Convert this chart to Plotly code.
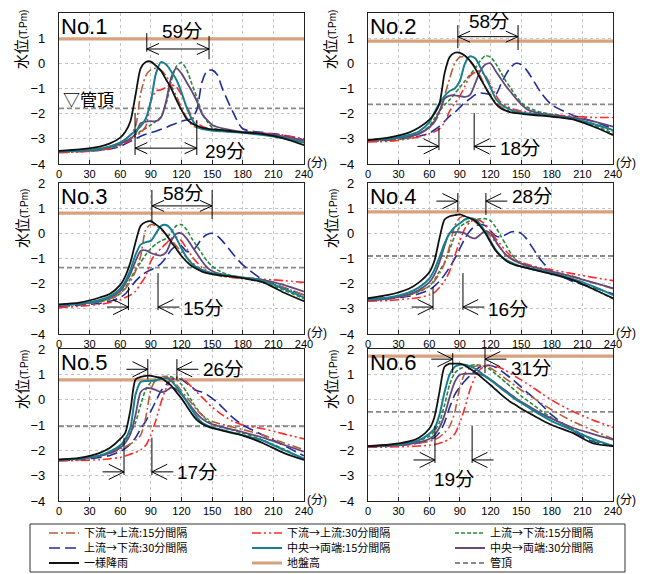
import plotly.graph_objects as go

# ---------------- data ----------------
T = [0, 20, 40, 50, 60, 65, 70, 75, 80, 85, 90, 95, 100, 105, 110, 115, 120, 125,
     130, 135, 140, 145, 150, 155, 160, 170, 180, 200, 220, 240]
X_TICKS = [0, 30, 60, 90, 120, 150, 180, 210, 240]
Y_TICKS = [-4, -3, -2, -1, 0, 1, 2]
PANEL_NAMES = ["No.1", "No.2", "No.3", "No.4", "No.5", "No.6"]
GROUND = [0.97, 0.88, 0.8, 0.85, 0.78, 1.72]
PIPE = [-1.79, -1.63, -1.36, -0.9, -1.05, -0.48]

no1_du15 = [-3.5,-3.45,-3.38,-3.3,-3.15,-3.02,-2.85,-2.5,-1.2,-0.5,-0.25,-0.2,-0.28,-0.5,-0.9,-1.3,-1.75,-2.15,-2.45,-2.55,-2.6,-2.64,-2.67,-2.69,-2.7,-2.73,-2.75,-2.8,-2.92,-3.1]
no1_du30 = [-3.55,-3.52,-3.45,-3.38,-3.25,-3.15,-3.05,-2.9,-2.75,-2.5,-1.5,-1.1,-1.05,-0.95,-0.85,-0.95,-1.25,-1.7,-2.1,-2.35,-2.5,-2.58,-2.62,-2.65,-2.67,-2.7,-2.72,-2.78,-2.85,-3.0]
no1_ud15 = [-3.52,-3.5,-3.45,-3.38,-3.25,-3.12,-2.98,-2.82,-2.7,-2.58,-2.45,-2.3,-2.12,-1.6,-0.7,-0.12,0.03,-0.25,-0.8,-1.35,-1.95,-2.3,-2.55,-2.62,-2.65,-2.7,-2.73,-2.8,-2.95,-3.15]
no1_ud30 = [-3.52,-3.5,-3.45,-3.4,-3.3,-3.2,-3.1,-3.0,-2.9,-2.82,-2.75,-2.7,-2.62,-2.55,-2.45,-2.38,-2.3,-2.25,-2.2,-1.85,-0.75,-0.3,-0.27,-0.45,-1.0,-1.9,-2.6,-2.75,-2.85,-3.05]
no1_ce15 = [-3.5,-3.47,-3.4,-3.3,-3.15,-3.02,-2.85,-2.68,-2.5,-2.2,-1.5,-0.4,0.05,-0.05,-0.33,-0.65,-1.15,-1.75,-2.2,-2.5,-2.6,-2.64,-2.67,-2.69,-2.7,-2.73,-2.76,-2.85,-2.98,-3.15]
no1_ce30 = [-3.5,-3.47,-3.4,-3.32,-3.2,-3.1,-3.0,-2.8,-2.38,-2.32,-2.3,-2.3,-2.15,-1.5,-0.55,-0.2,-0.4,-0.75,-1.1,-1.5,-2.0,-2.25,-2.45,-2.53,-2.58,-2.66,-2.72,-2.78,-2.9,-3.05]
no1_uni  = [-3.48,-3.42,-3.31,-3.18,-2.95,-2.72,-2.3,-1.25,-0.2,0.05,0.07,-0.1,-0.3,-0.65,-1.0,-1.45,-1.85,-2.2,-2.38,-2.48,-2.55,-2.59,-2.62,-2.64,-2.65,-2.7,-2.74,-2.81,-2.98,-3.25]

no2_du15 = [-3.05,-3.0,-2.9,-2.78,-2.55,-2.35,-2.0,-1.3,-0.6,0.0,0.25,0.25,0.1,-0.15,-0.5,-0.95,-1.3,-1.55,-1.72,-1.82,-1.9,-1.95,-1.98,-2.0,-2.02,-2.05,-2.1,-2.2,-2.4,-2.7]
no2_du30 = [-3.12,-3.1,-3.0,-2.92,-2.8,-2.72,-2.6,-2.35,-1.9,-1.6,-1.3,-0.9,-0.5,-0.35,-0.3,-0.5,-0.85,-1.25,-1.55,-1.7,-1.78,-1.85,-1.9,-1.93,-1.95,-2.0,-2.05,-2.1,-2.15,-2.15]
no2_ud15 = [-3.08,-3.05,-2.95,-2.8,-2.5,-2.2,-1.9,-1.65,-1.45,-1.2,-0.95,-0.7,-0.45,-0.2,0.1,0.3,0.25,0.0,-0.35,-0.7,-1.0,-1.3,-1.55,-1.72,-1.82,-1.95,-2.02,-2.15,-2.45,-2.78]
no2_ud30 = [-3.1,-3.05,-2.97,-2.9,-2.78,-2.65,-2.5,-2.3,-2.1,-1.95,-1.75,-1.55,-1.4,-1.25,-1.18,-1.2,-1.25,-1.25,-0.85,-0.45,-0.15,0.0,-0.05,-0.25,-0.55,-1.2,-1.65,-2.05,-2.3,-2.6]
no2_ce15 = [-3.05,-3.0,-2.85,-2.7,-2.35,-1.95,-1.6,-1.3,-1.1,-1.0,-0.7,0.0,0.28,0.2,-0.15,-0.55,-0.95,-1.4,-1.62,-1.75,-1.85,-1.92,-1.95,-1.98,-2.0,-2.05,-2.1,-2.2,-2.4,-2.65]
no2_ce30 = [-3.05,-3.0,-2.9,-2.8,-2.55,-2.3,-1.9,-1.4,-1.28,-1.27,-1.3,-1.33,-1.25,-0.8,-0.3,-0.05,0.0,-0.3,-0.6,-0.9,-1.15,-1.4,-1.62,-1.8,-1.9,-2.0,-2.05,-2.15,-2.3,-2.52]
no2_uni  = [-3.05,-2.95,-2.75,-2.55,-2.25,-2.0,-1.6,-0.4,0.25,0.42,0.42,0.3,0.1,-0.2,-0.6,-0.95,-1.3,-1.6,-1.78,-1.88,-1.95,-1.98,-2.0,-2.03,-2.05,-2.08,-2.12,-2.22,-2.5,-2.85]

no3_du15 = [-2.85,-2.8,-2.7,-2.6,-2.4,-2.2,-1.9,-1.5,-0.9,0.15,0.35,0.3,0.15,-0.05,-0.25,-0.5,-0.75,-0.95,-1.15,-1.3,-1.45,-1.55,-1.62,-1.66,-1.7,-1.75,-1.8,-1.9,-2.15,-2.45]
no3_du30 = [-2.95,-2.9,-2.82,-2.75,-2.65,-2.55,-2.45,-2.3,-2.0,-1.7,-1.1,-0.8,-0.6,-0.4,-0.2,-0.15,-0.3,-0.6,-0.9,-1.15,-1.35,-1.5,-1.6,-1.66,-1.7,-1.75,-1.78,-1.82,-1.88,-1.95]
no3_ud15 = [-2.85,-2.82,-2.72,-2.62,-2.4,-2.15,-1.8,-1.45,-1.15,-0.85,-0.6,-0.42,-0.3,-0.2,0.05,0.3,0.35,0.15,-0.2,-0.5,-0.8,-1.1,-1.3,-1.45,-1.55,-1.7,-1.78,-1.95,-2.25,-2.6]
no3_ud30 = [-2.9,-2.85,-2.78,-2.7,-2.55,-2.4,-2.15,-1.9,-1.7,-1.55,-1.45,-1.35,-1.2,-0.95,-0.65,-0.5,-0.5,-0.72,-0.72,-0.5,-0.2,-0.05,0.0,-0.1,-0.3,-0.8,-1.25,-1.85,-2.15,-2.45]
no3_ce15 = [-2.85,-2.8,-2.65,-2.5,-2.2,-1.9,-1.45,-0.85,-0.45,-0.35,-0.3,0.0,0.3,0.33,0.15,-0.2,-0.6,-0.95,-1.2,-1.35,-1.45,-1.52,-1.58,-1.62,-1.65,-1.7,-1.76,-1.88,-2.2,-2.55]
no3_ce30 = [-2.85,-2.8,-2.68,-2.55,-2.3,-2.0,-1.6,-1.1,-0.7,-0.68,-0.78,-0.85,-0.88,-0.75,-0.3,-0.02,0.0,-0.2,-0.5,-0.8,-1.1,-1.35,-1.5,-1.58,-1.63,-1.7,-1.75,-1.85,-2.05,-2.32]
no3_uni  = [-2.82,-2.75,-2.55,-2.4,-2.05,-1.7,-1.15,-0.35,0.3,0.45,0.48,0.35,0.2,-0.05,-0.35,-0.62,-0.9,-1.12,-1.3,-1.42,-1.52,-1.58,-1.62,-1.65,-1.68,-1.72,-1.78,-1.95,-2.35,-2.7]

no4_du15 = [-2.65,-2.6,-2.45,-2.3,-2.1,-1.9,-1.6,-1.2,-0.5,0.3,0.62,0.68,0.6,0.45,0.3,0.1,-0.1,-0.35,-0.6,-0.85,-1.0,-1.12,-1.2,-1.27,-1.32,-1.42,-1.52,-1.7,-1.95,-2.2]
no4_du30 = [-2.7,-2.67,-2.6,-2.55,-2.45,-2.35,-2.15,-1.9,-1.5,-0.9,-0.3,0.2,0.45,0.55,0.5,0.35,0.1,-0.2,-0.45,-0.7,-0.9,-1.05,-1.15,-1.22,-1.28,-1.38,-1.45,-1.6,-1.75,-1.88]
no4_ud15 = [-2.62,-2.57,-2.45,-2.32,-2.1,-1.85,-1.5,-1.15,-0.65,-0.1,0.25,0.4,0.5,0.55,0.58,0.58,0.5,0.25,-0.1,-0.45,-0.8,-1.05,-1.2,-1.3,-1.38,-1.5,-1.6,-1.85,-2.2,-2.6]
no4_ud30 = [-2.65,-2.6,-2.5,-2.4,-2.25,-2.1,-1.9,-1.65,-1.35,-1.0,-0.6,-0.2,0.1,0.3,0.35,0.3,0.1,-0.1,-0.15,-0.05,0.05,0.08,0.0,-0.2,-0.5,-1.1,-1.5,-1.9,-2.15,-2.4]
no4_ce15 = [-2.62,-2.55,-2.35,-2.15,-1.8,-1.45,-0.95,-0.4,0.0,0.25,0.4,0.55,0.6,0.55,0.35,0.05,-0.3,-0.65,-0.9,-1.05,-1.15,-1.25,-1.32,-1.37,-1.42,-1.5,-1.58,-1.8,-2.1,-2.45]
no4_ce30 = [-2.65,-2.6,-2.42,-2.25,-1.95,-1.65,-1.15,-0.5,0.02,0.05,0.05,0.0,-0.15,-0.2,-0.05,0.1,0.0,-0.3,-0.6,-0.85,-1.0,-1.12,-1.2,-1.27,-1.32,-1.42,-1.52,-1.72,-1.95,-2.18]
no4_uni  = [-2.58,-2.45,-2.2,-1.95,-1.55,-1.1,-0.2,0.55,0.68,0.72,0.75,0.68,0.6,0.5,0.28,0.0,-0.35,-0.68,-0.9,-1.08,-1.2,-1.27,-1.32,-1.37,-1.42,-1.52,-1.62,-1.85,-2.2,-2.58]

no5_du15 = [-2.37,-2.33,-2.22,-2.12,-1.95,-1.85,-1.75,-1.6,-1.4,-0.7,0.4,0.8,0.92,0.9,0.8,0.6,0.35,0.1,-0.15,-0.4,-0.6,-0.75,-0.85,-0.92,-0.98,-1.08,-1.18,-1.4,-1.7,-1.98]
no5_du30 = [-2.42,-2.4,-2.37,-2.33,-2.28,-2.22,-2.15,-2.08,-1.98,-1.8,-1.4,-0.8,-0.1,0.45,0.8,0.88,0.85,0.7,0.5,0.3,0.1,-0.1,-0.3,-0.45,-0.6,-0.85,-1.0,-1.15,-1.35,-1.55]
no5_ud15 = [-2.37,-2.33,-2.22,-2.1,-1.85,-1.6,-1.3,-0.9,-0.2,0.4,0.68,0.8,0.88,0.92,0.9,0.8,0.6,0.3,-0.05,-0.35,-0.6,-0.8,-0.95,-1.03,-1.1,-1.2,-1.32,-1.6,-1.95,-2.35]
no5_ud30 = [-2.4,-2.37,-2.28,-2.2,-2.05,-1.92,-1.75,-1.5,-1.15,-0.85,-0.45,-0.05,0.35,0.6,0.78,0.85,0.8,0.65,0.5,0.35,0.3,0.2,0.05,-0.1,-0.3,-0.7,-1.0,-1.4,-1.8,-2.22]
no5_ce15 = [-2.37,-2.33,-2.2,-2.05,-1.8,-1.55,-1.1,0.2,0.7,0.74,0.75,0.76,0.82,0.85,0.75,0.5,0.25,-0.05,-0.38,-0.68,-0.9,-1.02,-1.1,-1.15,-1.2,-1.3,-1.4,-1.62,-1.98,-2.33]
no5_ce30 = [-2.37,-2.33,-2.22,-2.1,-1.9,-1.7,-1.35,-0.6,0.3,0.45,0.45,0.38,0.3,0.35,0.48,0.4,0.2,-0.05,-0.3,-0.55,-0.75,-0.88,-0.97,-1.03,-1.08,-1.18,-1.28,-1.5,-1.78,-2.05]
no5_uni  = [-2.37,-2.3,-2.1,-1.9,-1.55,-1.3,-0.4,0.8,0.9,0.94,0.94,0.9,0.85,0.72,0.55,0.3,0.05,-0.25,-0.55,-0.8,-0.95,-1.05,-1.12,-1.17,-1.22,-1.32,-1.42,-1.72,-2.1,-2.38]

no6_du15 = [-1.85,-1.83,-1.78,-1.72,-1.65,-1.58,-1.48,-1.3,-1.05,-0.5,0.5,1.05,1.25,1.32,1.35,1.32,1.25,1.12,0.98,0.82,0.68,0.52,0.38,0.25,0.12,-0.15,-0.4,-0.85,-1.2,-1.55]
no6_du30 = [-1.88,-1.87,-1.85,-1.83,-1.8,-1.77,-1.72,-1.65,-1.55,-1.35,-0.9,-0.3,0.4,0.9,1.2,1.33,1.35,1.32,1.25,1.15,1.03,0.9,0.78,0.65,0.52,0.25,-0.02,-0.45,-0.8,-1.1]
no6_ud15 = [-1.83,-1.8,-1.72,-1.62,-1.45,-1.25,-0.9,-0.2,0.6,1.05,1.22,1.3,1.35,1.38,1.36,1.3,1.18,1.02,0.85,0.68,0.5,0.33,0.15,0.0,-0.15,-0.45,-0.72,-1.15,-1.6,-1.83]
no6_ud30 = [-1.85,-1.82,-1.76,-1.7,-1.6,-1.5,-1.3,-0.9,-0.3,0.2,0.5,0.75,0.95,1.15,1.3,1.35,1.35,1.28,1.15,1.0,0.85,0.68,0.5,0.32,0.15,-0.2,-0.6,-1.2,-1.65,-1.82]
no6_ce15 = [-1.83,-1.8,-1.7,-1.6,-1.35,-1.15,-0.6,0.3,1.0,1.3,1.38,1.38,1.32,1.22,1.08,0.92,0.78,0.62,0.45,0.3,0.15,0.0,-0.12,-0.25,-0.38,-0.62,-0.85,-1.2,-1.55,-1.83]
no6_ce30 = [-1.85,-1.82,-1.75,-1.68,-1.55,-1.4,-1.1,-0.6,0.1,0.7,0.98,1.02,1.03,1.02,1.0,0.92,0.8,0.65,0.5,0.35,0.2,0.05,-0.08,-0.2,-0.32,-0.55,-0.75,-1.1,-1.35,-1.58]
no6_uni  = [-1.83,-1.78,-1.65,-1.5,-1.15,-0.7,0.3,1.3,1.42,1.42,1.42,1.35,1.22,1.08,0.92,0.75,0.58,0.4,0.22,0.05,-0.1,-0.22,-0.35,-0.47,-0.58,-0.8,-1.0,-1.3,-1.72,-1.83]

# arrow markers (minutes, water level) and their labels
TOP_L = [86, 88, 91, 88, 87, 83]
TOP_R = [147, 147, 150, 115.5, 115.5, 114.6]
TOP_Y = [0.57, 1.06, 1.09, 1.28, 1.2, 1.6]
TOP_KIND = ["between", "between", "between", "inward", "inward", "inward"]
TOP_VL = [(1.2, 0.46), (1.52, 0.6), (1.72, 0.49), (1.6, 0.85), (1.6, 0.8), (1.84, 1.05)]
TOP_VR = [(1.09, 0.16), (1.52, 0.53), (1.72, 0.57), (1.6, 0.73), (1.6, 0.8), (2.0, 1.05)]
TOP_LABEL = ["59分", "58分", "58分", "28分", "26分", "31分"]
TOP_LX = [120, 119, 121.5, 161, 161, 160]
TOP_LY = [1.27, 1.66, 1.58, 1.45, 1.2, 1.25]

BOT_L = [74.5, 69.5, 68, 63.7, 63.7, 65.6]
BOT_R = [135, 104, 97, 93, 91, 102]
BOT_Y = [-3.37, -3.3, -2.93, -2.93, -2.85, -2.38]
BOT_KIND = ["between", "inward", "inward", "inward", "inward", "inward"]
BOT_VL = [(-1.97, -3.64), (-2.57, -3.45), (-2.13, -3.05), (-2.13, -3.05), (-1.5, -2.97), (-1.04, -2.5)]
BOT_VR = [(-2.25, -3.64), (-1.97, -3.45), (-1.58, -3.05), (-1.58, -3.05), (-1.5, -2.97), (-1.04, -2.5)]
BOT_LABEL = ["29分", "18分", "15分", "16分", "17分", "19分"]
BOT_LX = [163, 149, 141, 137.6, 135.6, 83.8]
BOT_LY = [-3.5, -3.38, -3.0, -3.04, -2.87, -3.15]

SERIES = [
    ("下流→上流:15分間隔", [no1_du15, no2_du15, no3_du15, no4_du15, no5_du15, no6_du15]),
    ("下流→上流:30分間隔", [no1_du30, no2_du30, no3_du30, no4_du30, no5_du30, no6_du30]),
    ("上流→下流:15分間隔", [no1_ud15, no2_ud15, no3_ud15, no4_ud15, no5_ud15, no6_ud15]),
    ("上流→下流:30分間隔", [no1_ud30, no2_ud30, no3_ud30, no4_ud30, no5_ud30, no6_ud30]),
    ("中央→両端:15分間隔", [no1_ce15, no2_ce15, no3_ce15, no4_ce15, no5_ce15, no6_ce15]),
    ("中央→両端:30分間隔", [no1_ce30, no2_ce30, no3_ce30, no4_ce30, no5_ce30, no6_ce30]),
    ("一様降雨", [no1_uni, no2_uni, no3_uni, no4_uni, no5_uni, no6_uni]),
]

# ---------------- styles ----------------
STYLES = [
    dict(color="#B65E38", width=1.6, dash="9px,3px,2px,3px"),
    dict(color="#FF2B2B", width=1.6, dash="9px,3px,2px,3px,2px,3px"),
    dict(color="#2A8A3C", width=1.6, dash="4px,2px"),
    dict(color="#1F2E9E", width=1.6, dash="11px,5px"),
    dict(color="#17808F", width=2.0, dash="solid"),
    dict(color="#65487A", width=1.8, dash="solid"),
    dict(color="#111111", width=1.8, dash="solid"),
]
LEGEND_ROW = ["legend", "legend", "legend", "legend2", "legend2", "legend2", "legend3"]
DRAW_ORDER = [3, 2, 1, 0, 5, 4, 6]
FONT = "Liberation Sans, Arial, Noto Sans CJK JP, sans-serif"
JFONT = "Noto Sans CJK JP, sans-serif"

# page is drawn with the browser's default 8px body margin
OFF = 8
W, H = 648 - OFF, 574 - OFF
COLS_X = [(59, 304), (368, 613)]
ROWS_Y = [(13, 164), (183, 334), (349, 501)]
TITLE_CY = [40, 219, 380]
LEG_BOX = (30, 524, 625, 572)
LEG_ROWS_Y = [533, 548, 563]


def px_x(v):
    return (v - OFF) / W


def px_y(v):
    return 1 - (v - OFF) / H


def ax_names(p):
    return ("x" if p == 0 else f"x{p+1}", "y" if p == 0 else f"y{p+1}")


fig = go.Figure()
layout = {}
shapes = []
annotations = []

for p in range(6):
    r, c = divmod(p, 2)
    xr, yr = ax_names(p)
    xkey = "xaxis" if p == 0 else f"xaxis{p+1}"
    ykey = "yaxis" if p == 0 else f"yaxis{p+1}"
    x0, x1 = COLS_X[c]
    y0, y1 = ROWS_Y[r]
    layout[xkey] = dict(
        domain=[px_x(x0), px_x(x1)], anchor=yr, range=[0, 240], tickvals=X_TICKS,
        showgrid=True, gridcolor="#C4C4C4", griddash="dot", gridwidth=1,
        showline=True, mirror=True, linecolor="#222222", linewidth=1.2,
        ticks="inside", ticklen=4, tickcolor="#222222", automargin=False,
        tickfont=dict(size=11, color="black", family=FONT), zeroline=False,
    )
    layout[ykey] = dict(
        domain=[px_y(y1), px_y(y0)], anchor=xr, range=[-4, 2], tickvals=Y_TICKS,
        showgrid=True, gridcolor="#C4C4C4", griddash="dot", gridwidth=1,
        showline=True, mirror=True, linecolor="#222222", linewidth=1.2,
        ticks="", ticklabelstandoff=10, automargin=False,
        tickfont=dict(size=13, color="black", family=FONT), zeroline=False,
    )

    # ground level and pipe top
    fig.add_trace(go.Scatter(
        x=[0, 240], y=[GROUND[p], GROUND[p]], xaxis=xr, yaxis=yr, mode="lines",
        line=dict(color="#D6A27E", width=3.2), name="地盤高", legendgroup="g",
        legend="legend3", showlegend=(p == 0), legendrank=2, hoverinfo="skip"))
    fig.add_trace(go.Scatter(
        x=[0, 240], y=[PIPE[p], PIPE[p]], xaxis=xr, yaxis=yr, mode="lines",
        line=dict(color="#8A8A8A", width=1.8, dash="5px,3px"), name="管頂", legendgroup="pipe",
        legend="legend3", showlegend=(p == 0), legendrank=3, hoverinfo="skip"))

    for s in DRAW_ORDER:
        name, arrs = SERIES[s]
        st = STYLES[s]
        fig.add_trace(go.Scatter(
            x=T, y=arrs[p], xaxis=xr, yaxis=yr, mode="lines",
            line=dict(color=st["color"], width=st["width"], dash=st["dash"],
                      shape="spline", smoothing=0.7),
            name=name, legendgroup=name, legend=LEGEND_ROW[s], showlegend=(p == 0),
            legendrank=(s % 3) + 1, hoverinfo="skip"))

    # panel title
    annotations.append(dict(x=0, y=1.45, xref=xr, yref=yr, text=PANEL_NAMES[p], showarrow=False,
                            xanchor="left", yanchor="middle",
                            font=dict(size=22, color="black", family=FONT)))
    # y axis title
    annotations.append(dict(x=px_x(22 if c == 0 else 331), y=px_y(TITLE_CY[r]), xref="paper", yref="paper",
                            text='水位<span style="font-size:10px">(T.Pm)</span>', textangle=-90,
                            showarrow=False, xanchor="center", yanchor="middle",
                            font=dict(size=15, color="black", family=FONT)))
    # (分)
    annotations.append(dict(x=px_x(x1 + 1), y=px_y(y1 - 1), xref="paper", yref="paper",
                            text="(分)", showarrow=False, xanchor="left", yanchor="middle",
                            font=dict(size=12, color="black", family=FONT)))

    def seg(xa, ya, xb, yb):
        shapes.append(dict(type="line", xref=xr, yref=yr, x0=xa, y0=ya, x1=xb, y1=yb,
                           line=dict(color="black", width=1)))

    def chevron(xt, yt, direction, dx, dy):
        # direction: +1 tip points right, -1 tip points left
        seg(xt, yt, xt - direction * dx, yt + dy)
        seg(xt, yt, xt - direction * dx, yt - dy)

    for L, R, Y, kind, VL, VR in [
        (TOP_L[p], TOP_R[p], TOP_Y[p], TOP_KIND[p], TOP_VL[p], TOP_VR[p]),
        (BOT_L[p], BOT_R[p], BOT_Y[p], BOT_KIND[p], BOT_VL[p], BOT_VR[p]),
    ]:
        seg(L, VL[0], L, VL[1])
        seg(R, VR[0], R, VR[1])
        if kind == "between":
            seg(L, Y, R, Y)
            chevron(L, Y, -1, 12, 0.22)
            chevron(R, Y, 1, 12, 0.22)
        else:
            seg(L - 21, Y, L, Y)
            seg(R, Y, R + 21, Y)
            chevron(L, Y, 1, 15, 0.3)
            chevron(R, Y, -1, 15, 0.3)

    annotations.append(dict(x=TOP_LX[p], y=TOP_LY[p], xref=xr, yref=yr, text=TOP_LABEL[p],
                            showarrow=False, xanchor="center", yanchor="middle",
                            font=dict(size=19, color="black", family=FONT)))
    annotations.append(dict(x=BOT_LX[p], y=BOT_LY[p], xref=xr, yref=yr, text=BOT_LABEL[p],
                            showarrow=False, xanchor="center", yanchor="middle",
                            font=dict(size=19, color="black", family=FONT)))

# pipe-top label on No.1
annotations.append(dict(x=2, y=-1.46, xref="x", yref="y", text="▽管頂", showarrow=False,
                        xanchor="left", yanchor="middle",
                        font=dict(size=17, color="black", family=FONT)))

# legend frame
shapes.append(dict(type="rect", xref="paper", yref="paper",
                   x0=px_x(LEG_BOX[0]), x1=px_x(LEG_BOX[2]),
                   y0=px_y(LEG_BOX[3]), y1=px_y(LEG_BOX[1]),
                   line=dict(color="#333333", width=1), fillcolor="rgba(0,0,0,0)"))


def leg(row_y):
    return dict(orientation="h", x=px_x(LEG_BOX[0] + 14), y=px_y(row_y),
                xanchor="left", yanchor="middle", entrywidth=158, entrywidthmode="pixels",
                borderwidth=0, bgcolor="rgba(0,0,0,0)", itemwidth=30,
                font=dict(size=11, family=JFONT, color="black"), traceorder="normal")


fig.update_layout(
    width=W, height=H, margin=dict(l=0, r=0, t=0, b=0, autoexpand=False),
    paper_bgcolor="white", plot_bgcolor="white",
    font=dict(family=FONT, color="black"),
    shapes=shapes, annotations=annotations,
    legend=leg(LEG_ROWS_Y[0]), legend2=leg(LEG_ROWS_Y[1]), legend3=leg(LEG_ROWS_Y[2]),
    **layout,
)

fig.write_html("out.html")
